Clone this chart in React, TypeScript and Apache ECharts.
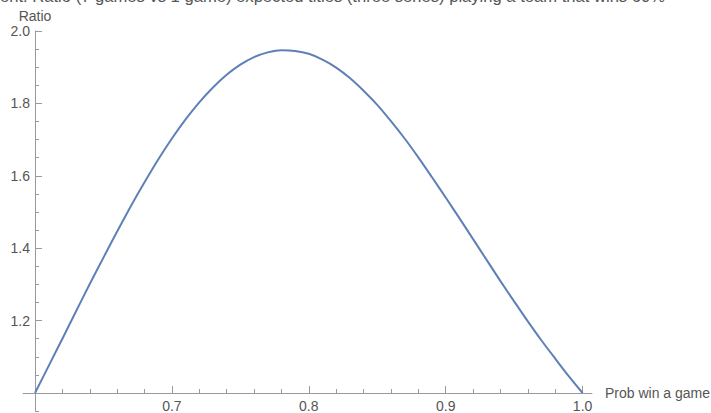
import React, { useEffect, useRef } from "react";
import * as echarts from "echarts";

const titleText =
  "ent: Ratio (7 games vs 1 game) expected titles (three series) playing a team that wins 60%";
const xName = "Prob win a game";
const yName = "Ratio";

const probWin = [
  0.6, 0.61, 0.62, 0.63, 0.64, 0.65, 0.66, 0.67, 0.68, 0.69, 0.7, 0.71, 0.72,
  0.73, 0.74, 0.75, 0.76, 0.77, 0.78, 0.79, 0.8, 0.81, 0.82, 0.83, 0.84, 0.85,
  0.86, 0.87, 0.88, 0.89, 0.9, 0.91, 0.92, 0.93, 0.94, 0.95, 0.96, 0.97, 0.98,
  0.99, 1.0,
];
const ratio = [
  1.0, 1.075, 1.15, 1.226, 1.301, 1.374, 1.446, 1.516, 1.582, 1.645, 1.703,
  1.756, 1.803, 1.844, 1.879, 1.907, 1.928, 1.941, 1.947, 1.945, 1.937, 1.921,
  1.899, 1.87, 1.835, 1.796, 1.751, 1.703, 1.651, 1.596, 1.54, 1.483, 1.425,
  1.367, 1.309, 1.253, 1.198, 1.145, 1.095, 1.046, 1.0,
];

const FONT = "'Liberation Sans', Arial, sans-serif";
const LABEL = "#555555";
const AXIS = "#9a9a9a";
const LINE = "#5e81b5";

export default function App() {
  const ref = useRef<HTMLDivElement>(null);
  useEffect(() => {
    document.body.style.margin = "0";
    if (!ref.current) return;
    const chart = echarts.init(ref.current, undefined, { renderer: "svg" });
    const near = (v: number, t: number) => Math.abs(v - t) < 1e-9;
    chart.setOption({
      animation: false,
      backgroundColor: "#ffffff",
      title: {
        text: titleText,
        left: 0,
        top: -12,
        padding: 0,
        textStyle: { fontSize: 16.6, fontWeight: "normal", color: LABEL, fontFamily: FONT },
      },
      grid: [
        { left: 35, top: 31, width: 547.6, height: 362 },
        { left: 23, top: 393, width: 570, height: 18 },
      ],
      xAxis: [
        {
          type: "value",
          gridIndex: 0,
          min: 0.6,
          max: 1.0,
          interval: 0.1,
          axisLine: { show: false },
          axisTick: { show: true, inside: true, length: 7, lineStyle: { color: AXIS } },
          minorTick: { show: true, splitNumber: 5, length: 4, lineStyle: { color: AXIS } },
          splitLine: { show: false },
          axisLabel: {
            color: LABEL,
            fontSize: 14,
            fontFamily: FONT,
            margin: 6,
            formatter: (v: number) => (near(v, 0.6) ? "" : v.toFixed(1)),
          },
        },
        {
          type: "value",
          gridIndex: 1,
          position: "top",
          min: 0,
          max: 1,
          axisLine: { show: true, onZero: false, lineStyle: { color: AXIS } },
          axisTick: { show: false },
          axisLabel: { show: false },
          splitLine: { show: false },
          name: xName,
          nameLocation: "end",
          nameGap: 13,
          nameTextStyle: {
            color: LABEL,
            fontSize: 14,
            fontFamily: FONT,
            verticalAlign: "middle",
          },
        },
      ],
      yAxis: [
        {
          type: "value",
          gridIndex: 0,
          min: 1.0,
          max: 2.0,
          interval: 0.2,
          axisLine: { show: true, onZero: false, lineStyle: { color: AXIS } },
          axisTick: { show: true, inside: true, length: 7, lineStyle: { color: AXIS } },
          minorTick: { show: true, splitNumber: 4, length: 4, lineStyle: { color: AXIS } },
          splitLine: { show: false },
          axisLabel: {
            color: LABEL,
            fontSize: 14,
            fontFamily: FONT,
            margin: 5,
            formatter: (v: number) => (near(v, 1.0) ? "" : v.toFixed(1)),
          },
          name: yName,
          nameLocation: "end",
          nameGap: 8,
          nameTextStyle: { color: LABEL, fontSize: 14, fontFamily: FONT, align: "center" },
        },
        {
          type: "value",
          gridIndex: 1,
          min: 0.95,
          max: 1.0,
          interval: 0.05,
          offset: -12,
          axisLine: { show: true, onZero: false, lineStyle: { color: AXIS } },
          axisTick: { show: true, inside: true, length: 4, lineStyle: { color: AXIS } },
          axisLabel: { show: false },
          splitLine: { show: false },
        },
      ],
      series: [
        {
          type: "line",
          xAxisIndex: 0,
          yAxisIndex: 0,
          data: probWin.map((x, i) => [x, ratio[i]]),
          smooth: 0.3,
          showSymbol: false,
          clip: false,
          lineStyle: { color: LINE, width: 2 },
        },
      ],
    });
    return () => chart.dispose();
  }, []);
  return (
    <div
      ref={ref}
      style={{ width: 711, height: 413, position: "fixed", left: 0, top: 0, background: "#fff" }}
    />
  );
}
